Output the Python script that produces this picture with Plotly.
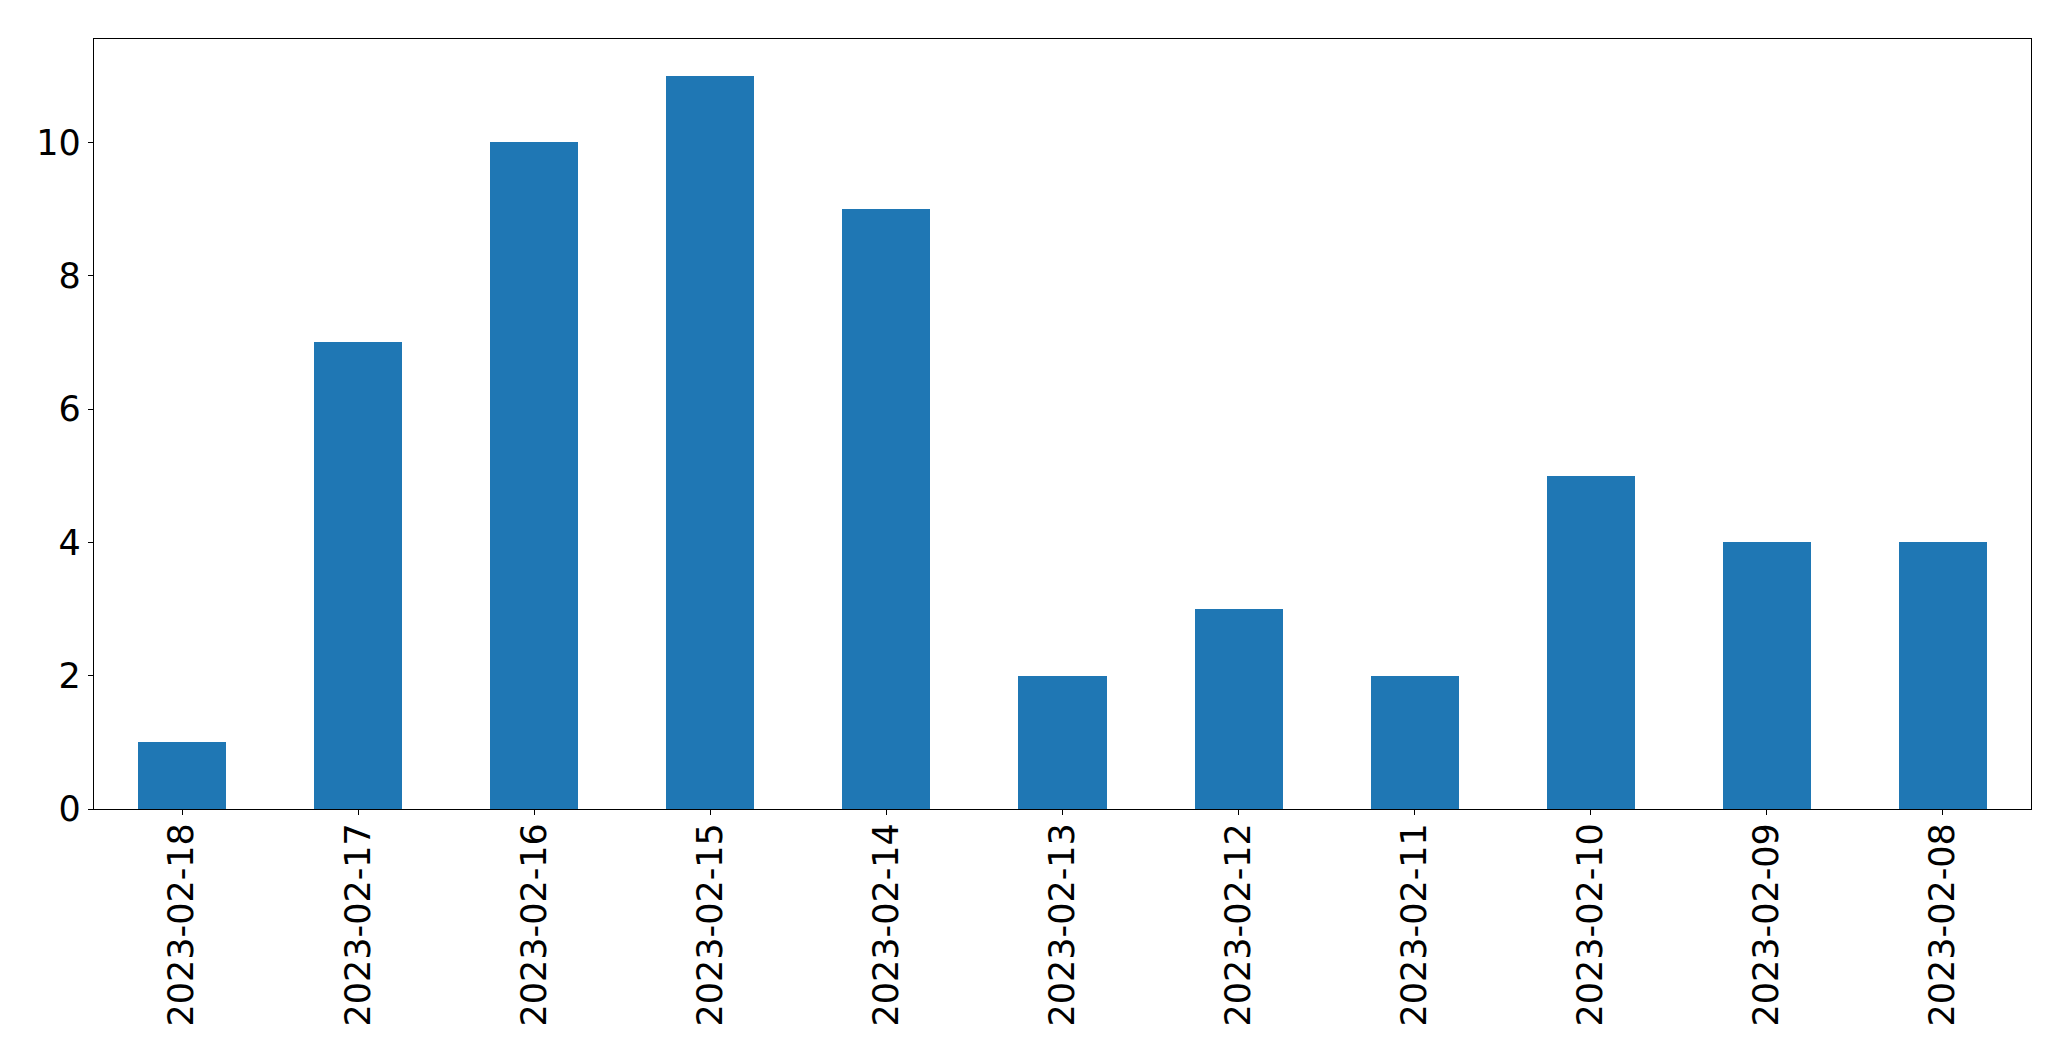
import plotly.graph_objects as go

dates = ["2023-02-18", "2023-02-17", "2023-02-16", "2023-02-15", "2023-02-14",
         "2023-02-13", "2023-02-12", "2023-02-11", "2023-02-10", "2023-02-09", "2023-02-08"]
counts = [1, 7, 10, 11, 9, 2, 3, 2, 5, 4, 4]

fig = go.Figure(go.Bar(x=dates, y=counts, marker_color="#1f77b4", marker_line_width=0, width=0.5))

axis_common = dict(showline=True, linecolor="black", linewidth=1.3, mirror=True,
                   ticks="outside", ticklen=5, tickwidth=1.3, tickcolor="black",
                   showgrid=False, zeroline=False,
                   tickfont=dict(family="DejaVu Sans", size=35, color="black"))

fig.update_layout(
    width=2071, height=1061,
    margin=dict(l=94, r=40, t=39, b=252),
    paper_bgcolor="white", plot_bgcolor="white",
    showlegend=False,
    bargap=0,
    xaxis=dict(type="category", range=[-0.5, 10.5], tickangle=-90,
               ticklabelstandoff=-6, **axis_common),
    yaxis=dict(range=[0, 11.55], tickmode="linear", tick0=0, dtick=2, **axis_common),
)

fig.write_html("out.html", config={"displayModeBar": False},
               post_script="document.body.style.margin='0';document.body.style.overflow='hidden';")
